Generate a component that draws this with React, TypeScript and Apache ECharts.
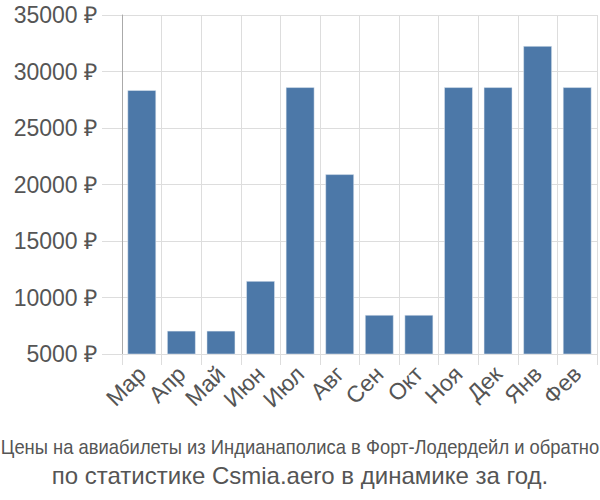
import React, { useEffect, useRef } from "react";
import * as echarts from "echarts";

const categories = ["Мар", "Апр", "Май", "Июн", "Июл", "Авг", "Сен", "Окт", "Ноя", "Дек", "Янв", "Фев"];
const prices = [28350, 7050, 7050, 11450, 28600, 20900, 8450, 8450, 28600, 28600, 32250, 28600];
const titleLine1 = "Цены на авиабилеты из Индианаполиса в Форт-Лодердейл и обратно";
const titleLine2 = "по статистике Csmia.aero в динамике за год.";

export default function App() {
  const ref = useRef<HTMLDivElement>(null);
  useEffect(() => {
    if (!ref.current) return;
    const chart = echarts.init(ref.current, null, { renderer: "svg" });
    chart.setOption({
      animation: false,
      textStyle: { fontFamily: "'Liberation Sans', Arial, sans-serif" },
      graphic: [
        {
          type: "text",
          x: 300,
          y: 447,
          scaleX: 0.92,
          style: {
            text: titleLine1,
            textAlign: "center",
            textVerticalAlign: "middle",
            fontFamily: "'Liberation Sans', Arial, sans-serif",
            fontSize: 20,
            fill: "#555",
          },
        },
        {
          type: "text",
          x: 300,
          y: 475,
          style: {
            text: titleLine2,
            textAlign: "center",
            textVerticalAlign: "middle",
            fontFamily: "'Liberation Sans', Arial, sans-serif",
            fontSize: 24,
            fill: "#555",
          },
        },
      ],
      grid: { left: 122, right: 3, top: 15, bottom: 146, containLabel: false },
      xAxis: {
        type: "category",
        data: categories,
        axisLine: { show: true, lineStyle: { color: "#ddd" } },
        axisTick: { show: true, alignWithLabel: false, length: 11, lineStyle: { color: "#ddd" } },
        splitLine: { show: true, lineStyle: { color: "#ddd" } },
        axisLabel: { rotate: 45, fontSize: 23, color: "#555", margin: 16, interval: 0 },
      },
      yAxis: {
        type: "value",
        min: 5000,
        max: 35000,
        interval: 5000,
        axisLine: { show: true, lineStyle: { color: "#aaa" } },
        axisTick: { show: true, length: 20, lineStyle: { color: "#ddd" } },
        splitLine: { show: true, lineStyle: { color: "#ddd" } },
        axisLabel: { fontSize: 23, color: "#555", margin: 25, formatter: (v: number) => v + " ₽" },
      },
      series: [
        {
          type: "bar",
          data: prices,
          barWidth: "72%",
          itemStyle: { color: "#4c78a8", borderColor: "#e8eef5", borderWidth: 0.5 },
        },
      ],
    });
    return () => chart.dispose();
  }, []);
  return <div ref={ref} style={{ width: 600, height: 500, position: "absolute", left: 0, top: 0 }} />;
}
